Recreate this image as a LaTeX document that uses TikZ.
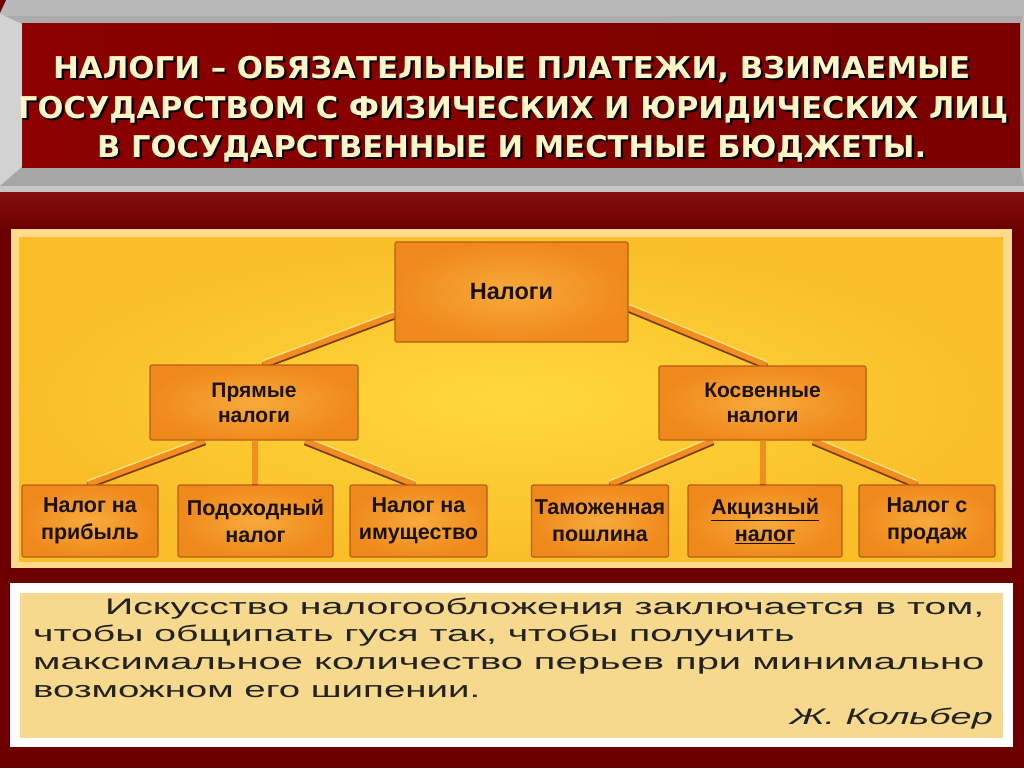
\documentclass[tikz,border=0pt]{standalone}
\usepackage{fontspec}
\usepackage{graphicx}
\setmainfont{Liberation Sans}
\newfontfamily\titlefont{DejaVu Sans}
\usetikzlibrary{calc}
\definecolor{bgred}{HTML}{6C0000}
\definecolor{bandred}{HTML}{861010}
\definecolor{titlered}{HTML}{8C0000}
\definecolor{titlered2}{HTML}{7A0000}
\definecolor{cream}{HTML}{FFF6C8}
\definecolor{panelrim}{HTML}{FFDA8C}
\definecolor{panelin}{HTML}{FFD83C}
\definecolor{panelout}{HTML}{F9BE28}
\definecolor{boxin}{HTML}{F8AA3C}
\definecolor{boxout}{HTML}{F0891C}
\definecolor{boxedge}{HTML}{B4601A}
\definecolor{boxtext}{HTML}{1A1208}
\definecolor{conndark}{HTML}{7A3A10}
\definecolor{connlight}{HTML}{FFE27A}
\definecolor{connfill}{HTML}{F28E20}
\definecolor{quotefill}{HTML}{F6D98C}
\definecolor{quotetext}{HTML}{222222}
\pgfdeclarelayer{bg}
\pgfsetlayers{bg,main}
\newcommand{\shadowline}[2]{\makebox[0pt][l]{\hspace{2.2pt}\raisebox{-2.2pt}{\color{black}\resizebox{#1}{\height}{#2}}}{\color{cream}\resizebox{#1}{\height}{#2}}}
\tikzset{
  titletext/.style={anchor=base west, inner sep=0pt, font=\titlefont\bfseries\fontsize{30}{36}\selectfont},
  taxbox/.style={draw=boxedge, line width=1.2pt, rounded corners=2pt, inner color=boxin, outer color=boxout,
    align=center, text=boxtext, font=\bfseries\fontsize{21.5}{27}\selectfont},
  conn/.style={preaction={draw=connlight, line width=6pt, transform canvas={yshift=1.4pt}},
    preaction={draw=conndark, line width=6.5pt, transform canvas={yshift=-1.4pt}},
    draw=connfill, line width=5.5pt},
  quoteline/.style={anchor=base west, inner sep=0pt, text=quotetext, font=\fontsize{22.5}{26}\selectfont},
}
\begin{document}
\begin{tikzpicture}[x=1pt,y=-1pt]
\useasboundingbox (0,0) rectangle (1024,768);
\begin{pgfonlayer}{bg}
% background
\fill[bgred] (0,0) rectangle (1024,768);
\fill[top color=bandred, bottom color=bgred] (0,190) rectangle (1024,228);
% title frame
\fill[gray!65] (0,0) rectangle (1024,192);
\fill[gray!55] (0,0) rectangle (1024,16);
\fill[gray!35] (0,14) -- (22,24) -- (22,167) -- (0,186) -- cycle;
\fill[gray!55] (1024,14) -- (1020,24) -- (1020,167) -- (1024,186) -- cycle;
\fill[gray!70] (0,186) -- (22,167) -- (1020,167) -- (1024,186) -- cycle;
\fill[gray!45] (0,186) rectangle (1024,192);
\fill[bgred] (0,0) -- (6,0) -- (0,13) -- cycle;
\fill[left color=titlered, right color=titlered2] (22,24) rectangle (1020,167);
% middle panel
\fill[panelrim] (11,229) rectangle (1012,568);
\fill[inner color=panelin, outer color=panelout] (19,237) rectangle (1003,561);
% quote panel
\fill[white] (10,583) rectangle (1013,747);
\fill[quotefill] (20,593) rectangle (1003,738);
\end{pgfonlayer}

% title
\node[titletext] (t1) at (53,78) {\shadowline{917pt}{НАЛОГИ – ОБЯЗАТЕЛЬНЫЕ ПЛАТЕЖИ, ВЗИМАЕМЫЕ}};
\node[titletext] (t2) at (18,118) {\shadowline{990pt}{ГОСУДАРСТВОМ С ФИЗИЧЕСКИХ И ЮРИДИЧЕСКИХ ЛИЦ}};
\node[titletext] (t3) at (97,157) {\shadowline{829pt}{В ГОСУДАРСТВЕННЫЕ И МЕСТНЫЕ БЮДЖЕТЫ.}};

% tree
\node[taxbox, minimum width=233pt, minimum height=100pt, font=\bfseries\fontsize{23.5}{28}\selectfont] (nal) at (511.5,292) {Налоги};
\node[taxbox, minimum width=208pt, minimum height=75pt, font=\bfseries\fontsize{21}{25}\selectfont] (pr) at (254,402.5) {Прямые\\налоги};
\node[taxbox, minimum width=207pt, minimum height=74pt, font=\bfseries\fontsize{21}{25}\selectfont] (kos) at (762.5,403) {Косвенные\\налоги};
\node[taxbox, minimum width=136pt, minimum height=72pt] (b1) at (90,521) {Налог на\\прибыль};
\node[taxbox, minimum width=155pt, minimum height=72pt] (b2) at (255.5,521) {Подоходный\\налог};
\node[taxbox, minimum width=137pt, minimum height=72pt] (b3) at (418.5,521) {Налог на\\имущество};
\node[taxbox, minimum width=136pt, minimum height=72pt] (b4) at (600,521) {Таможенная\\пошлина};
\node[taxbox, minimum width=154pt, minimum height=72pt] (b5) at (765,521) {\underline{Акцизный}\\\underline{налог}};
\node[taxbox, minimum width=136pt, minimum height=72pt] (b6) at (927,521) {Налог с\\продаж};

\begin{pgfonlayer}{bg}
\draw[conn] ($(nal.west)+(0,23)$) -- ($(pr.north)+(9,0)$);
\draw[conn] ($(nal.east)+(0,16)$) -- ($(kos.north)+(4.5,0)$);
\draw[conn] ($(pr.south)+(-49,0)$) -- ($(b1.north)+(-2,0)$);
\draw[conn] ($(pr.south)+(1,0)$) -- ($(b2.north)+(-0.5,0)$);
\draw[conn] ($(pr.south)+(51,0)$) -- ($(b3.north)+(-4,0)$);
\draw[conn] ($(kos.south)+(-49.5,0)$) -- ($(b4.north)+(10,0)$);
\draw[conn] ($(kos.south)+(0.5,0)$) -- ($(b5.north)+(-2,0)$);
\draw[conn] ($(kos.south)+(50.5,0)$) -- ($(b6.north)+(-10,0)$);
\end{pgfonlayer}

% quote
\node[quoteline] (q1) at (105,614) {\resizebox{879pt}{\height}{Искусство налогообложения заключается в том,}};
\node[quoteline] (q2) at (33,641) {\resizebox{761pt}{\height}{чтобы общипать гуся так, чтобы получить}};
\node[quoteline] (q3) at (33,669) {\resizebox{951pt}{\height}{максимальное количество перьев при минимально}};
\node[quoteline] (q4) at (33,697) {\resizebox{447pt}{\height}{возможном его шипении.}};
\node[quoteline, anchor=base east, font=\itshape\fontsize{22.5}{26}\selectfont] (sig) at (993,724) {\resizebox{203pt}{\height}{Ж. Кольбер}};
\end{tikzpicture}
\end{document}
